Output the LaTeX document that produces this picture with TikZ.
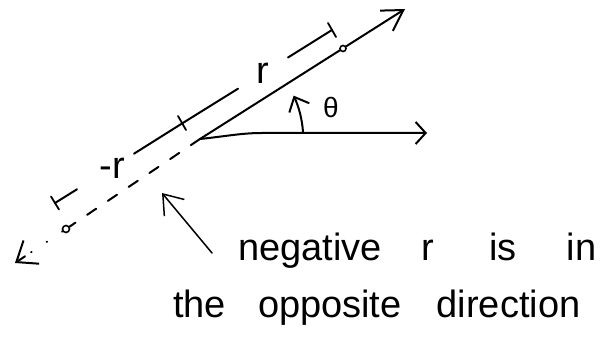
\documentclass[tikz,border=0pt]{standalone}
\usepackage{fontspec}
\setmainfont{Liberation Sans}
\usetikzlibrary{arrows.meta}
\begin{document}
\begin{tikzpicture}[x=1pt,y=1pt,
  ink/.style={line width=2pt, line cap=round, line join=round},
  thin ink/.style={line width=1.5pt, line cap=round, line join=round},
  hand/.style={font=\fontsize{38}{40}\selectfont, inner sep=0pt},
  small hand/.style={font=\fontsize{28}{30}\selectfont, inner sep=0pt},
  dotc/.style={circle, draw, fill=white, line width=1.6pt, minimum size=7pt, inner sep=0pt},
  dimtick/.style={line width=1.8pt, line cap=round}]
\useasboundingbox (0,0) rectangle (615,351);

% main rays
\coordinate (O) at (200,212);
\coordinate (A) at (405,342);
\coordinate (H1) at (262,218);
\coordinate (H) at (427,218);
\draw[ink, -{Straight Barb[length=20pt,width=24pt]}] (O) -- (A);
\draw[ink, -{Straight Barb[length=10pt,width=22pt]}] (O) .. controls (228,215) and (242,218) .. (H1) -- (H);
\node[dotc, minimum size=6pt] (P) at (343,302.5) {};

% negative extension
\node[dotc] (Q) at (66,122) {};
\coordinate (T2) at (27,96);
\coordinate (T1) at (25,94.7);
\coordinate (T) at (15,88);
\draw[ink, dash pattern=on 11pt off 14pt] (O) -- (Q);
\draw[ink, dash pattern=on 0.5pt off 18pt] (Q) -- (T2);
\draw[ink, -{Straight Barb[length=18pt,width=28pt]}] (T1) -- (T);

% dimension line with r and -r
\coordinate (L) at (55,148);
\coordinate (Lt1) at (51,154.5);
\coordinate (Lt2) at (59,141.5);
\coordinate (L1) at (77,161.7);
\coordinate (L2) at (134,197.3);
\coordinate (M) at (182,227.5);
\coordinate (Mt1) at (178,235);
\coordinate (Mt2) at (186,221);
\coordinate (M1) at (238,262.3);
\coordinate (R1) at (288,293.5);
\coordinate (R) at (332,321);
\coordinate (Rt1) at (328,328);
\coordinate (Rt2) at (336,314);
\draw[dimtick] (Lt1) -- (Lt2);
\draw[dimtick] (Mt1) -- (Mt2);
\draw[dimtick] (Rt1) -- (Rt2);
\draw[ink] (L) -- (L1);
\draw[ink] (L2) -- (M) -- (M1);
\draw[ink] (R1) -- (R);
\node[hand] (negr) at (112,183) {-r};
\node[hand] (posr) at (263,278) {r};

% angle theta
\coordinate (B1) at (303,219);
\draw[ink, -{Straight Barb[length=12pt,width=22pt]}] (B1) arc[start angle=4, end angle=25, radius=103pt];
\node[small hand] (theta) at (331,243) {θ};

% pointer and note
\coordinate (Ptail) at (212,98);
\coordinate (Ptip) at (162,158);
\draw[thin ink, -{Straight Barb[length=18pt,width=26pt]}] (Ptail) -- (Ptip);
\node[hand, anchor=base west] (t1) at (238,91) {negative\hspace{40pt}r\hspace{55pt}is\hspace{50pt}in};
\node[hand, anchor=base west] (t2) at (173,34) {the\hspace{32pt}opposite\hspace{35pt}direction};
\end{tikzpicture}
\end{document}
